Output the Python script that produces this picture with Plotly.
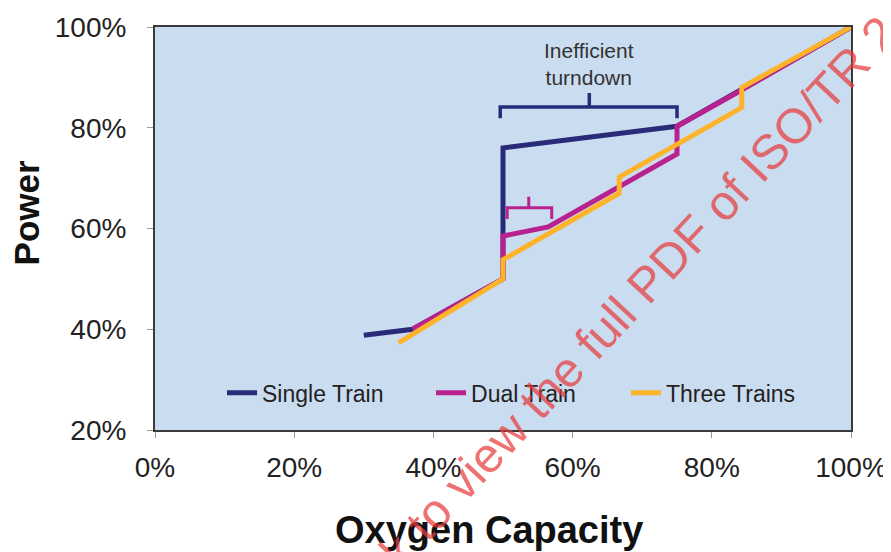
import plotly.graph_objects as go

# ---- data (percent) ----
single_x = [30, 37, 50, 50, 75, 100]
single_y = [38.8, 40, 50, 76, 80.3, 100]

dual_x = [37, 50, 50, 56.5, 75, 75, 84.3, 100]
dual_y = [40, 50, 58.5, 60.3, 74.8, 80.3, 87.5, 100]

three_x = [35, 50, 50, 66.7, 66.7, 84.3, 84.3, 100]
three_y = [37.3, 50, 53.8, 67, 70.2, 84, 88, 100]

series_names = ["Single Train", "Dual Train", "Three Trains"]
series_colors = ["#272B78", "#B8228F", "#FDB42B"]

x_ticks = [0, 20, 40, 60, 80, 100]
y_ticks = [20, 40, 60, 80, 100]

x_title = "Oxygen Capacity"
y_title = "Power"

# bracket geometry (data units)
big_bracket_x = [49.6, 49.6, 62.4, 75.0, 75.0]
big_bracket_y = [81.9, 84.1, 84.1, 84.1, 81.9]
big_tick_x = [62.4, 62.4]
big_tick_y = [84.1, 86.9]

small_bracket_x = [50.6, 50.6, 53.7, 57.0, 57.0]
small_bracket_y = [61.9, 64.1, 64.1, 64.1, 61.9]
small_tick_x = [53.7, 53.7]
small_tick_y = [64.1, 66.3]

FONT = "Liberation Sans, Arial, Helvetica, sans-serif"

fig = go.Figure()

legend_ids = ["legend", "legend2", "legend3"]
for xs, ys, name, col, lg in [(single_x, single_y, series_names[0], series_colors[0], legend_ids[0]),
                              (dual_x, dual_y, series_names[1], series_colors[1], legend_ids[1]),
                              (three_x, three_y, series_names[2], series_colors[2], legend_ids[2])]:
    fig.add_trace(go.Scatter(x=xs, y=ys, mode="lines", name=name, legend=lg,
                             line=dict(color=col, width=5)))

# brackets
fig.add_trace(go.Scatter(x=big_bracket_x, y=big_bracket_y, mode="lines", showlegend=False,
                         line=dict(color=series_colors[0], width=3.5), hoverinfo="skip"))
fig.add_trace(go.Scatter(x=big_tick_x, y=big_tick_y, mode="lines", showlegend=False,
                         line=dict(color=series_colors[0], width=3.5), hoverinfo="skip"))
fig.add_trace(go.Scatter(x=small_bracket_x, y=small_bracket_y, mode="lines", showlegend=False,
                         line=dict(color=series_colors[1], width=3), hoverinfo="skip"))
fig.add_trace(go.Scatter(x=small_tick_x, y=small_tick_y, mode="lines", showlegend=False,
                         line=dict(color=series_colors[1], width=3), hoverinfo="skip"))

fig.add_annotation(x=62.4, y=92.6, xref="x", yref="y", text="Inefficient<br>turndown",
                   showarrow=False, xanchor="center", yanchor="middle",
                   font=dict(family=FONT, size=21, color="#333333"))

# axis titles (placed as annotations to match the off-centre placement)
fig.add_annotation(xref="paper", yref="paper", x=0.48, y=-0.248,
                   xanchor="center", yanchor="middle", showarrow=False,
                   text=f"<b>{x_title}</b>",
                   font=dict(family=FONT, size=38, color="#111111"))
fig.add_annotation(xref="paper", yref="paper", x=-0.185, y=0.538,
                   xanchor="center", yanchor="middle", showarrow=False, textangle=-90,
                   text=f"<b>{y_title}</b>",
                   font=dict(family=FONT, size=35, color="#111111"))

# watermark
fig.add_annotation(xref="paper", yref="paper", x=0.655, y=0.268,
                   xanchor="center", yanchor="middle",
                   text="Click to view the full PDF of ISO/TR 2",
                   textangle=-47, showarrow=False,
                   font=dict(family=FONT, size=49, color="rgba(232,60,60,0.72)"))

axis_common = dict(showline=True, linecolor="#3a3a3a", linewidth=2, mirror=True,
                   showgrid=False, zeroline=False, ticks="outside", ticklen=6,
                   tickcolor="#999999", tickwidth=1, automargin=False,
                   tickfont=dict(family=FONT, size=28, color="#222222"))

fig.update_xaxes(range=[0, 100], tickvals=x_ticks, ticktext=[f"{v}%" for v in x_ticks],
                 ticklabelstandoff=5, **axis_common)
fig.update_yaxes(range=[20, 100], tickvals=y_ticks, ticktext=[f"{v}%" for v in y_ticks],
                 ticklabelstandoff=15, **axis_common)

legend_style = dict(orientation="h", y=0.092, xanchor="left", yanchor="middle",
                    bgcolor="rgba(0,0,0,0)", font=dict(family=FONT, size=23, color="#222222"))

fig.update_layout(
    width=883, height=544,
    margin=dict(l=147, r=40, t=19, b=122, autoexpand=False),
    plot_bgcolor="#CADCF0",
    paper_bgcolor="#FFFFFF",
    legend=dict(x=0.0963, **legend_style),
    legend2=dict(x=0.3966, **legend_style),
    legend3=dict(x=0.6767, **legend_style),
)

fig.write_html("out.html")
